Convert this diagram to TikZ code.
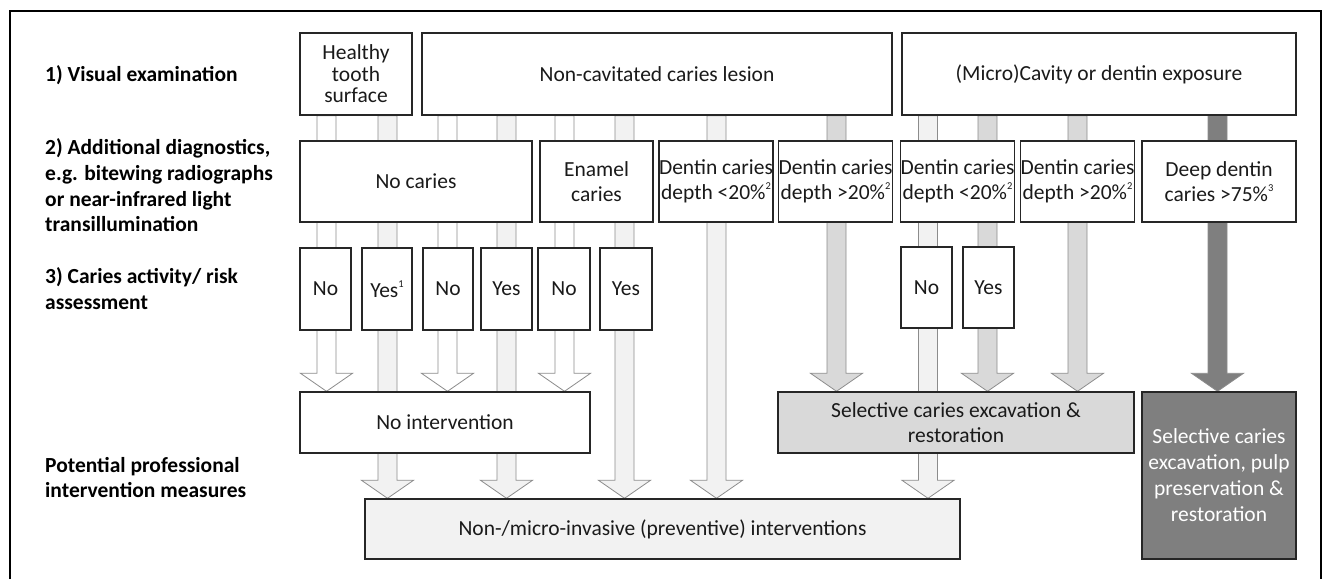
\documentclass[tikz,border=0pt]{standalone}
\usepackage{fontspec}
\setmainfont{Carlito}
\usetikzlibrary{calc}
\pgfdeclarelayer{background}
\pgfsetlayers{background,main}
\definecolor{lightfill}{HTML}{F2F2F2}
\definecolor{midfill}{HTML}{D9D9D9}
\definecolor{darkfill}{HTML}{7F7F7F}
\definecolor{arrowgray}{HTML}{8C8C8C}
\definecolor{boxline}{HTML}{262626}
\definecolor{txt}{HTML}{1A1A1A}
\newcommand\supr[1]{\raisebox{0.45em}{\fontsize{10.5}{10.5}\selectfont #1}}
\newcommand\fatarrow[4]{%
  \filldraw[fatline, fill=#4] let \p1=(#2.south), \p2=(#3.north) in
  (#1pt-9.5pt,\y1) -- (#1pt-9.5pt,\y2+18pt) -- (#1pt-26pt,\y2+18pt) -- (#1pt,\y2)
  -- (#1pt+26pt,\y2+18pt) -- (#1pt+9.5pt,\y2+18pt) -- (#1pt+9.5pt,\y1) -- cycle;}
\tikzset{
  fatline/.style={draw=arrowgray, line width=0.8pt},
  box/.style={draw=boxline, line width=1.4pt, fill=white, inner sep=0pt, align=center,
    text=txt, font=\fontsize{21.5}{24.5}\selectfont},
  lbl/.style={anchor=base west, inner sep=0pt, font=\bfseries\fontsize{21.5}{26}\selectfont, text=black},
}
\begin{document}
\begin{tikzpicture}[x=1pt,y=-1pt]
\useasboundingbox (0,0) rectangle (1323,579);
\draw[line width=2.5pt] (10,579) -- (10,11) -- (1321,11) -- (1321,579);
% left labels
\node[lbl] (l1) at (45,81) {1) Visual examination};
\node[lbl] (l2a) at (45,154) {2) Additional diagnostics,};
\node[lbl] (l2b) at (45,180) {e.g. bitewing radiographs};
\node[lbl] (l2c) at (45,206) {or near-infrared light};
\node[lbl] (l2d) at (45,231) {transillumination};
\node[lbl] (l3a) at (45,283) {3) Caries activity/ risk};
\node[lbl] (l3b) at (45,309) {assessment};
\node[lbl] (l4a) at (45,472) {Potential professional};
\node[lbl] (l4b) at (45,497) {intervention measures};
% row 1
\node[box, minimum width=112pt, minimum height=82pt, font=\fontsize{21.5}{21.5}\selectfont] (healthy) at (356,74) {Healthy\\tooth\\surface};
\node[box, minimum width=470pt, minimum height=82pt] (noncav) at (657,74) {Non-cavitated caries lesion};
\node[box, minimum width=394pt, minimum height=82pt] (cavity) at (1099,74) {(Micro)Cavity or dentin exposure};
% row 2
\node[box, minimum width=232pt, minimum height=81pt] (nocaries) at (416,181.5) {No caries};
\node[box, minimum width=113pt, minimum height=81pt] (enamel) at (596.5,181.5) {Enamel\\caries};
\node[box, minimum width=112pt, minimum height=81pt] (dA) at (716,181.5) {Dentin caries\\depth <20\%\supr{2}};
\node[box, minimum width=113pt, minimum height=81pt] (dB) at (835.5,181.5) {Dentin caries\\depth >20\%\supr{2}};
\node[box, minimum width=113pt, minimum height=81pt] (dC) at (957.5,181.5) {Dentin caries\\depth <20\%\supr{2}};
\node[box, minimum width=113pt, minimum height=81pt] (dD) at (1077.5,181.5) {Dentin caries\\depth >20\%\supr{2}};
\node[box, minimum width=154pt, minimum height=81pt] (deep) at (1219,181.5) {Deep dentin\\caries >75\%\supr{3}};
% row 3
\node[box, minimum width=51pt, minimum height=82pt] (n1) at (325.5,289) {No};
\node[box, minimum width=50pt, minimum height=82pt] (y1) at (387,289) {Yes\supr{1}};
\node[box, minimum width=50pt, minimum height=82pt] (n2) at (448,289) {No};
\node[box, minimum width=51pt, minimum height=82pt] (y2) at (506.5,289) {Yes};
\node[box, minimum width=52pt, minimum height=82pt] (n3) at (564,289) {No};
\node[box, minimum width=52pt, minimum height=82pt] (y3) at (626,289) {Yes};
\node[box, minimum width=51pt, minimum height=81pt] (n4) at (926.5,287.5) {No};
\node[box, minimum width=51pt, minimum height=81pt] (y4) at (988.5,287.5) {Yes};
% outcomes
\node[box, minimum width=290pt, minimum height=61pt] (noint) at (445,422.5) {No intervention};
\node[box, fill=midfill, minimum width=356pt, minimum height=61pt, font=\fontsize{21.5}{25}\selectfont] (selrest) at (956,422.5) {Selective caries excavation \&\\restoration};
\node[box, fill=darkfill, text=white, minimum width=154pt, minimum height=167pt, font=\fontsize{21.5}{26}\selectfont] (selpulp) at (1219,475.5) {Selective caries\\excavation, pulp\\preservation \&\\restoration};
\node[box, fill=lightfill, minimum width=595pt, minimum height=60pt] (nonmicro) at (662.5,529) {Non-/micro-invasive (preventive) interventions};
% arrows
\begin{pgfonlayer}{background}
\fatarrow{326.5}{healthy}{noint}{white}
\fatarrow{387.5}{healthy}{nonmicro}{lightfill}
\fatarrow{447.5}{noncav}{noint}{white}
\fatarrow{506.5}{noncav}{nonmicro}{lightfill}
\fatarrow{564.5}{noncav}{noint}{white}
\fatarrow{624.5}{noncav}{nonmicro}{lightfill}
\fatarrow{716.5}{noncav}{nonmicro}{lightfill}
\fatarrow{836.5}{noncav}{selrest}{midfill}
\fatarrow{928}{cavity}{nonmicro}{lightfill}
\fatarrow{987.5}{cavity}{selrest}{midfill}
\fatarrow{1077.5}{cavity}{selrest}{midfill}
\fatarrow{1217.5}{cavity}{selpulp}{darkfill}
\end{pgfonlayer}
\end{tikzpicture}
\end{document}
